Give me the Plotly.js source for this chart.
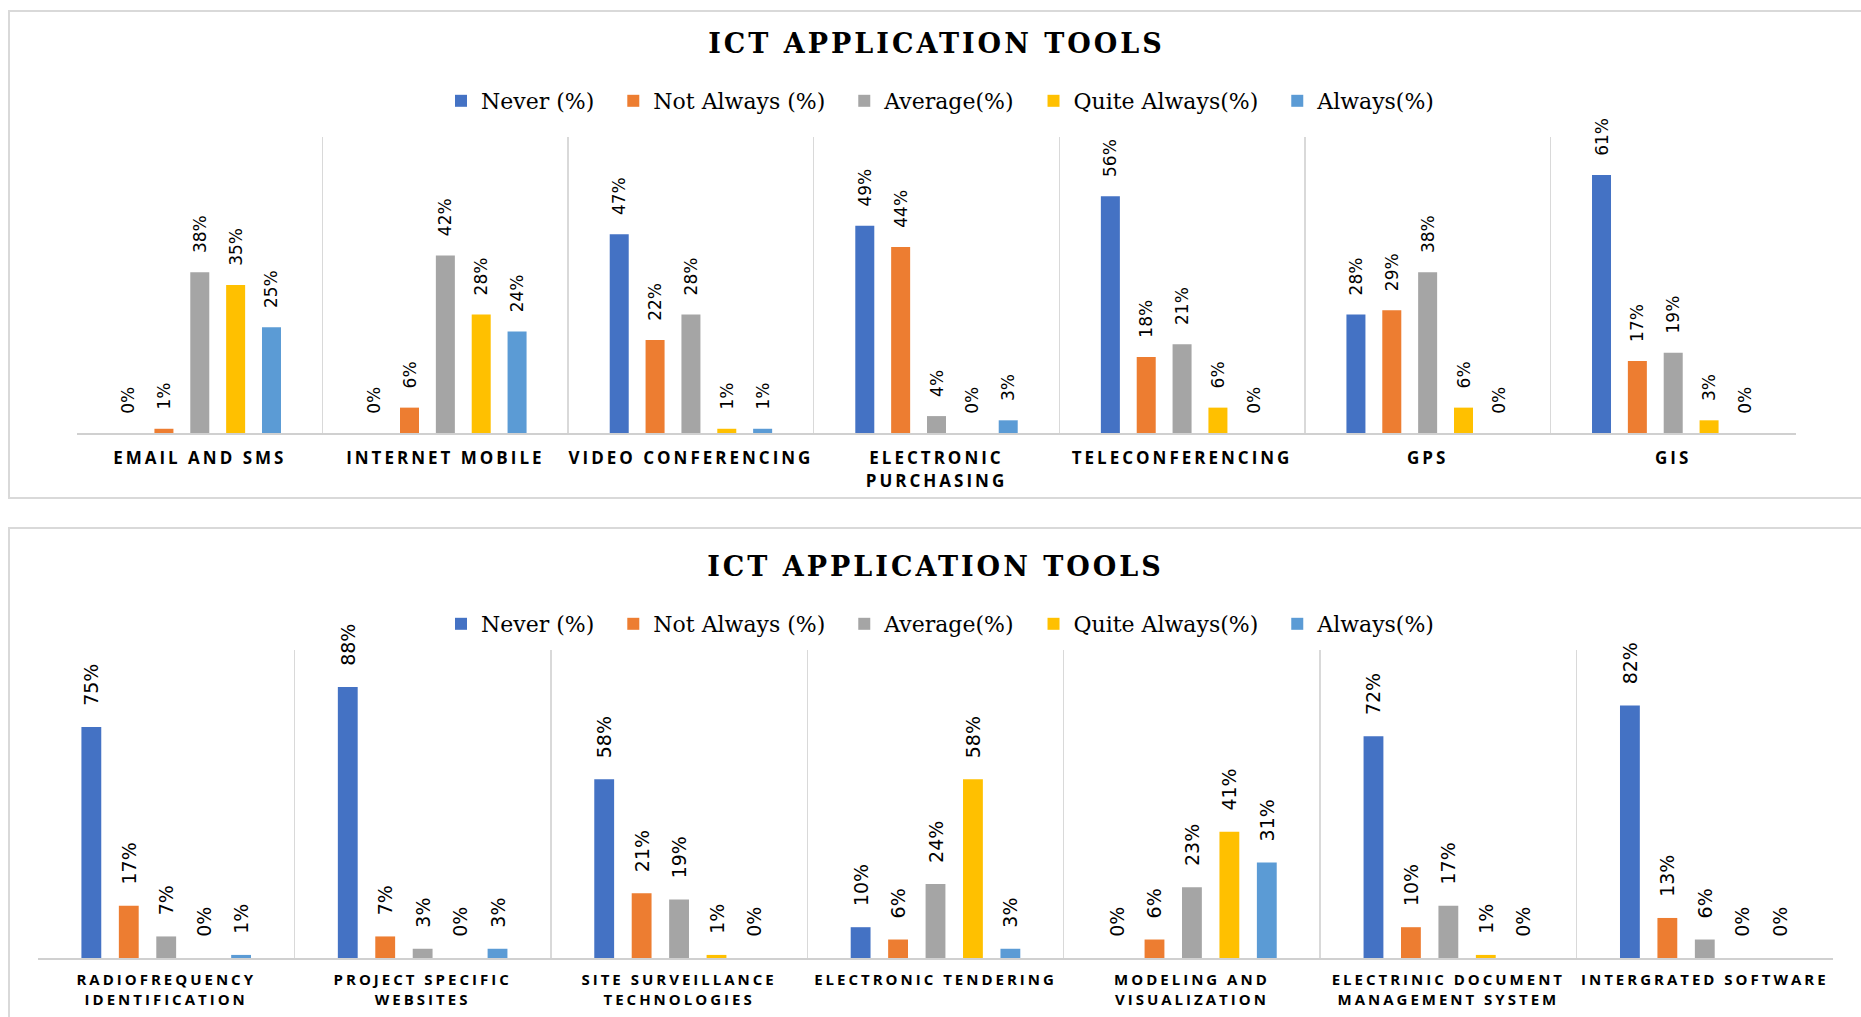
<!DOCTYPE html>
<html>
<head>
<meta charset="utf-8">
<script src="https://cdn.plot.ly/plotly-3.0.1.min.js"></script>
<style>
  body { margin: 0; background: #fff; overflow: hidden; width: 1861px; height: 1017px; position: relative; }
  .frame { position: absolute; border: 2px solid #d9d9d9; box-sizing: border-box; }
  .chart { position: absolute; left: 0; width: 1861px; }
  .gtitle { letter-spacing: 3px; }
  #top_chart .xtick text { letter-spacing: 3px; }
  #bottom_chart .xtick text { letter-spacing: 3px; }
</style>
</head>
<body>
<div class="frame" style="left:8px;top:10px;width:1900px;height:489px"></div>
<div class="frame" style="left:8px;top:527px;width:1900px;height:520px"></div>
<div id="top_chart" class="chart" style="top:0;height:500px"></div>
<div id="bottom_chart" class="chart" style="top:500px;height:517px"></div>
<script>
let chart_title = "ICT APPLICATION TOOLS";
let series_names = ["Never (%)", "Not Always (%)", "Average(%)", "Quite Always(%)", "Always(%)"];
let series_colors = ["#4472C4", "#ED7D31", "#A5A5A5", "#FFC000", "#5B9BD5"];

// first chart
let top_categories = ["EMAIL AND SMS", "INTERNET MOBILE", "VIDEO CONFERENCING", "ELECTRONIC<br>PURCHASING",
  "TELECONFERENCING", "GPS", "GIS"];
let top_never = [0, 0, 47, 49, 56, 28, 61];
let top_not_always = [1, 6, 22, 44, 18, 29, 17];
let top_average = [38, 42, 28, 4, 21, 38, 19];
let top_quite_always = [35, 28, 1, 0, 6, 6, 3];
let top_always = [25, 24, 1, 3, 0, 0, 0];

// second chart
let bottom_categories = ["RADIOFREQUENCY<br>IDENTIFICATION", "PROJECT SPECIFIC<br>WEBSITES",
  "SITE SURVEILLANCE<br>TECHNOLOGIES", "ELECTRONIC TENDERING", "MODELING AND<br>VISUALIZATION",
  "ELECTRINIC DOCUMENT<br>MANAGEMENT SYSTEM", "INTERGRATED SOFTWARE"];
let bottom_never = [75, 88, 58, 10, 0, 72, 82];
let bottom_not_always = [17, 7, 21, 6, 6, 10, 13];
let bottom_average = [7, 3, 19, 24, 23, 17, 6];
let bottom_quite_always = [0, 0, 1, 58, 41, 1, 0];
let bottom_always = [1, 3, 0, 3, 31, 0, 0];

function make_traces(categories, values, label_size) {
  return series_names.map((name, i) => ({
    type: "bar",
    // a little padding after each name so the legend entries spread like the original
    name: name + "\u00a0\u00a0",
    x: categories,
    y: values[i],
    marker: { color: series_colors[i] },
    text: values[i].map((v) => "\u00a0\u00a0\u00a0" + v + "%"),
    textposition: "outside",
    textangle: -90,
    constraintext: "none",
    cliponaxis: false,
    textfont: { family: "DejaVu Sans", size: label_size, color: "#000" },
    hoverinfo: "none",
  }));
}

function make_layout(height, margin, title_y, legend_x, legend_y, y_max, tick_size, standoff) {
  return {
    width: 1861,
    height: height,
    margin: margin,
    paper_bgcolor: "rgba(0,0,0,0)",
    plot_bgcolor: "rgba(0,0,0,0)",
    barmode: "group",
    bargap: 0.27,
    bargroupgap: 0.47,
    showlegend: true,
    title: {
      text: chart_title,
      font: { family: "DejaVu Serif", size: 27, weight: "bold", color: "#000" },
      x: 0.5,
      xref: "paper",
      xanchor: "center",
      y: title_y,
      yref: "container",
      yanchor: "middle",
    },
    legend: {
      orientation: "h",
      x: legend_x,
      xanchor: "center",
      y: legend_y,
      yanchor: "middle",
      traceorder: "normal",
      font: { family: "DejaVu Serif", size: 22, color: "#000" },
    },
    xaxis: {
      type: "category",
      tickson: "boundaries",
      ticks: "",
      ticklabelstandoff: standoff,
      showgrid: true,
      gridcolor: "#d9d9d9",
      gridwidth: 1.5,
      showline: true,
      linecolor: "#d0d0d0",
      linewidth: 2,
      tickfont: { family: "Open Sans", size: tick_size, weight: "bold", color: "#000" },
      fixedrange: true,
    },
    yaxis: {
      range: [0, y_max],
      showgrid: false,
      zeroline: false,
      showticklabels: false,
      fixedrange: true,
    },
  };
}

Plotly.newPlot(
  "top_chart",
  make_traces(top_categories, [top_never, top_not_always, top_average, top_quite_always, top_always], 17),
  make_layout(500, { l: 77, r: 65, t: 137, b: 67 }, 1 - 44 / 500, 0.5 + 11 / 1719, (433 - 101) / 296, 70, 17, 9),
  { staticPlot: true }
);

Plotly.newPlot(
  "bottom_chart",
  make_traces(bottom_categories, [bottom_never, bottom_not_always, bottom_average, bottom_quite_always, bottom_always], 19),
  make_layout(517, { l: 38, r: 28, t: 150, b: 59 }, 1 - 67 / 517, 0.5 + 12 / 1795, (458 - 124) / 308, 100, 15, 7),
  { staticPlot: true }
);
</script>
</body>
</html>
